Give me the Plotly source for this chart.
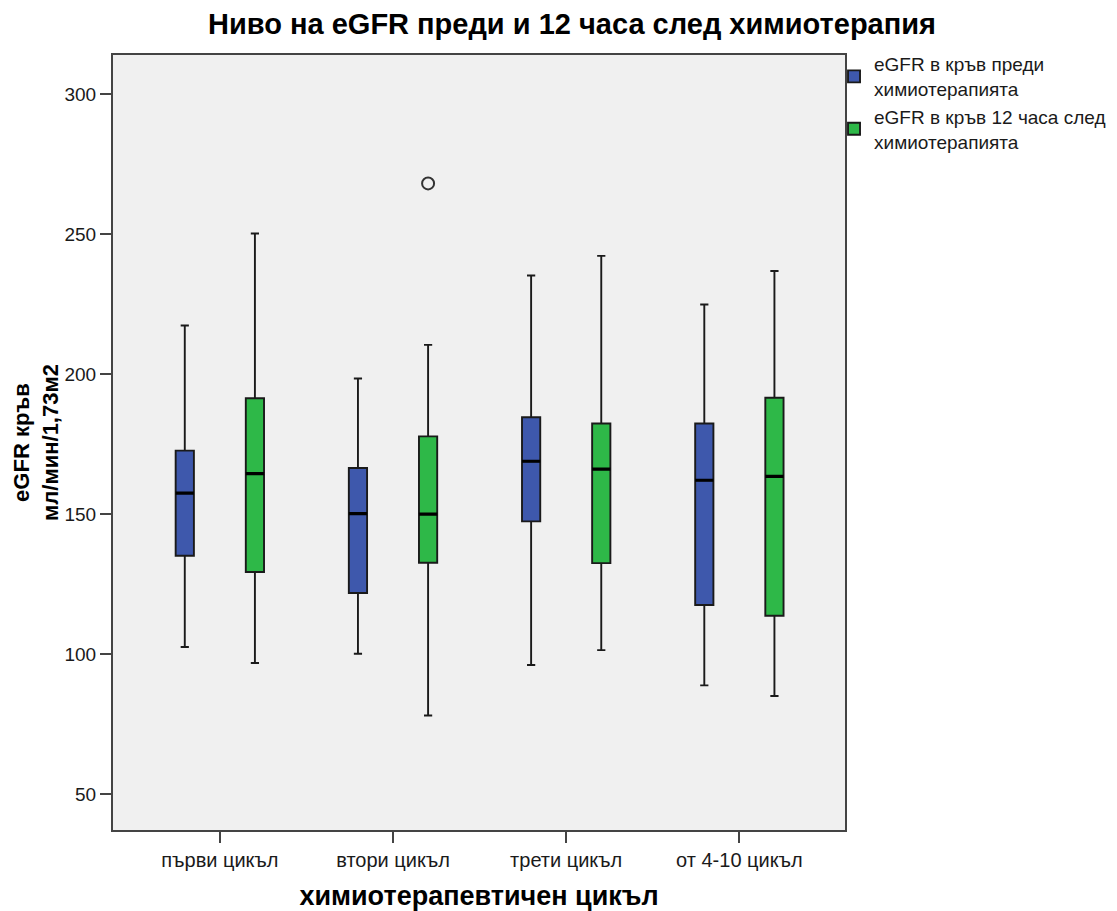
import plotly.graph_objects as go

# ---- data ----
cycles = ["първи цикъл", "втори цикъл", "трети цикъл", "от 4-10 цикъл"]
name_pre = "eGFR в кръв преди<br>химиотерапията"
name_post = "eGFR в кръв 12 часа след<br>химиотерапията"

pre_lower = [102.5, 100.1, 96.1, 88.8]
pre_q1 = [135.1, 121.8, 147.4, 117.5]
pre_median = [157.5, 150.2, 168.9, 162.1]
pre_q3 = [172.7, 166.5, 184.6, 182.4]
pre_upper = [217.4, 198.5, 235.3, 224.9]

post_lower = [96.8, 78.0, 101.4, 85.0]
post_q1 = [129.3, 132.6, 132.5, 113.7]
post_median = [164.5, 150.0, 166.1, 163.5]
post_q3 = [191.4, 177.8, 182.4, 191.6]
post_upper = [250.3, 210.5, 242.3, 236.9]

outlier_cycle = ["втори цикъл"]
outlier_value = [268.2]

y_ticks = [50, 100, 150, 200, 250, 300]

# ---- styles ----
BLUE = "#3E58AC"
GREEN = "#2EB848"
FONT = "Arial, Liberation Sans, sans-serif"

fig = go.Figure()


def add_series(name, group, color, lower, q1, med, q3, upper):
    fig.add_trace(go.Box(
        name=name, x=cycles, q1=q1, median=med, q3=q3,
        lowerfence=lower, upperfence=upper, boxpoints=False,
        fillcolor=color, line=dict(color="#1a1a1a", width=1.9),
        whiskerwidth=0.45, offsetgroup=group, alignmentgroup="all",
        hoverinfo="skip"))
    # thicker median bar drawn in the same slot
    fig.add_trace(go.Box(
        name=name, x=cycles, q1=med, median=med, q3=med,
        lowerfence=med, upperfence=med, boxpoints=False,
        fillcolor="rgba(0,0,0,0)", line=dict(color="#000000", width=3.2),
        whiskerwidth=0.45, offsetgroup=group, alignmentgroup="all",
        showlegend=False, hoverinfo="skip"))


add_series(name_pre, "pre", BLUE, pre_lower, pre_q1, pre_median, pre_q3, pre_upper)
add_series(name_post, "post", GREEN, post_lower, post_q1, post_median, post_q3, post_upper)

# outlier point, placed in the "post" slot
fig.add_trace(go.Box(
    name="outlier", x=outlier_cycle, y=outlier_value,
    boxpoints="all", pointpos=0, jitter=0,
    fillcolor="rgba(0,0,0,0)", line=dict(width=0, color="rgba(0,0,0,0)"),
    marker=dict(symbol="circle-open", size=12, color="#333333",
                line=dict(width=2, color="#333333")),
    offsetgroup="post", alignmentgroup="all",
    showlegend=False, hoverinfo="skip"))

# the page body adds an 8px offset, so the figure is sized to the visible area
fig.update_layout(
    width=1109, height=903,
    margin=dict(l=105, r=272, t=47, b=81, autoexpand=False),
    paper_bgcolor="white", plot_bgcolor="#F0F0F0",
    font=dict(family=FONT, size=19, color="#1a1a1a"),
    boxmode="group", boxgap=0.19, boxgroupgap=0.74,
    title=dict(text="<b>Ниво на eGFR преди и 12 часа след химиотерапия</b>",
               x=0.5086, xanchor="center", y=0.9823, yanchor="middle",
               font=dict(family=FONT, size=29, color="#000000")),
    legend=dict(x=0.985, xanchor="left", y=1.0127, yanchor="top",
                font=dict(family=FONT, size=19, color="#1a1a1a"),
                bgcolor="rgba(0,0,0,0)"),
    showlegend=True,
)
fig.update_xaxes(
    type="category", range=[-0.617, 3.61], automargin=False,
    showline=True, linecolor="#444444", linewidth=2, mirror=True,
    ticks="outside", ticklen=11, tickwidth=2, tickcolor="#444444",
    showgrid=False, zeroline=False,
    tickfont=dict(family=FONT, size=20, color="#1a1a1a"),
    title=dict(text="<b>химиотерапевтичен цикъл</b>", standoff=16,
               font=dict(family=FONT, size=27, color="#000000")),
)
fig.update_yaxes(
    range=[37.1, 314.1], tickvals=y_ticks, automargin=False,
    showline=True, linecolor="#444444", linewidth=2, mirror=True,
    ticks="outside", ticklen=11, tickwidth=2, tickcolor="#444444",
    showgrid=False, zeroline=False,
    tickfont=dict(family=FONT, size=19, color="#1a1a1a"),
    title=dict(text="<b>eGFR кръв<br>мл/мин/1,73м2</b>", standoff=0,
               font=dict(family=FONT, size=22, color="#000000")),
)

fig.write_html("out.html")
